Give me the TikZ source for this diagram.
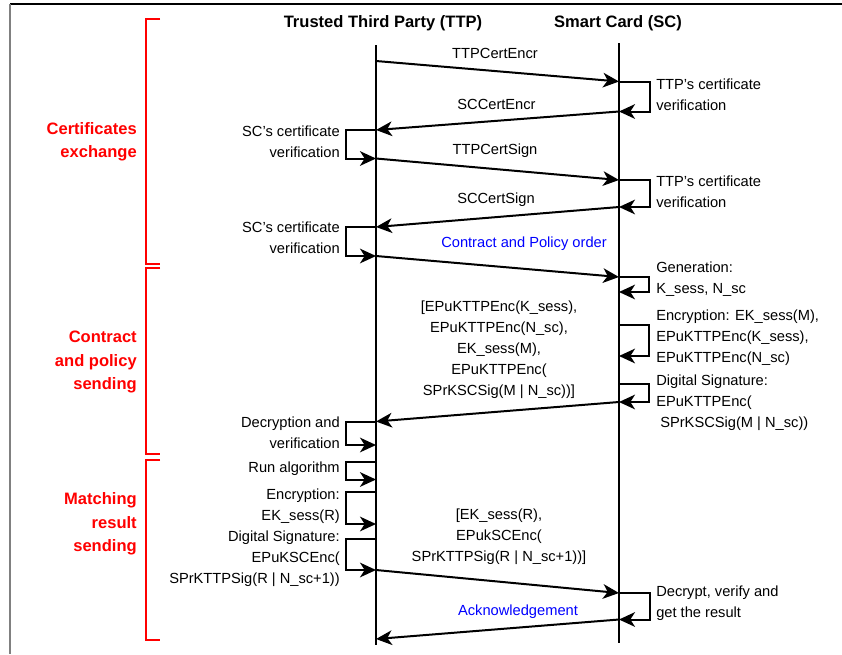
\documentclass[tikz,border=0pt]{standalone}
\usepackage{fontspec}
\setmainfont{Liberation Sans}
\usetikzlibrary{arrows.meta}
\begin{document}
\begin{tikzpicture}[x=0.75pt,y=-0.75pt,
  lbl/.style={inner sep=0pt,font=\fontsize{11}{15.75}\selectfont},
  lblL/.style={lbl,anchor=west,align=left},
  lblR/.style={lbl,anchor=east,align=right},
  lblC/.style={lbl,align=center},
  hdr/.style={inner sep=0pt,font=\fontsize{12.4}{15}\selectfont\bfseries},
  grp/.style={inner sep=0pt,anchor=east,align=right,text=red,font=\fontsize{12.4}{17.6}\selectfont\bfseries},
  life/.style={line width=2pt},
  msg/.style={line width=1.5pt,-{Stealth[length=12pt,width=11pt,inset=3.5pt]}},
  brk/.style={draw=red,line width=1.6pt},
  blu/.style={text=blue}]
\useasboundingbox (0,0) rectangle (842,654);
% frame
\draw[line width=1pt] (10,4) -- (842,4);
\draw[gray,line width=1.2pt] (10,4) -- (10,654);
% headers
\node[hdr] (hTTP) at (383,23) {Trusted Third Party (TTP)};
\node[hdr] (hSC) at (618,23) {Smart Card (SC)};
% lifelines
\coordinate (ttpTop) at (376,45); \coordinate (ttpBot) at (376,645);
\coordinate (scTop) at (619,43); \coordinate (scBot) at (619,643);
\draw[life] (ttpTop) -- (ttpBot);
\draw[life] (scTop) -- (scBot);
% message points
\coordinate (t1) at (376,61);
\coordinate (s1) at (619,81.5);
\coordinate (s2) at (619,111.5);
\coordinate (t2) at (376,130);
\coordinate (t3) at (376,158.5);
\coordinate (s3) at (619,180);
\coordinate (s4) at (619,207);
\coordinate (t4) at (376,227);
\coordinate (t5) at (376,256);
\coordinate (s5) at (619,277);
\coordinate (s6) at (619,292);
\coordinate (s7) at (619,325);
\coordinate (s8) at (619,356);
\coordinate (s9) at (619,384);
\coordinate (s10) at (619,402);
\coordinate (t6) at (376,421.5);
\coordinate (t7) at (376,445);
\coordinate (t8) at (376,462);
\coordinate (t9) at (376,479.5);
\coordinate (t10) at (376,492);
\coordinate (t11) at (376,524);
\coordinate (t12) at (376,539);
\coordinate (t13) at (376,570);
\coordinate (s11) at (619,593);
\coordinate (s12) at (619,619.5);
\coordinate (t14) at (376,639);
% messages
\draw[msg] (t1) -- (s1);
\draw[msg] (s1) -- ++(31,0) |- (s2);
\draw[msg] (s2) -- (t2);
\draw[msg] (t2) -- ++(-30,0) |- (t3);
\draw[msg] (t3) -- (s3);
\draw[msg] (s3) -- ++(31,0) |- (s4);
\draw[msg] (s4) -- (t4);
\draw[msg] (t4) -- ++(-30,0) |- (t5);
\draw[msg] (t5) -- (s5);
\draw[msg] (s5) -- ++(30,0) |- (s6);
\draw[msg] (s7) -- ++(30,0) |- (s8);
\draw[msg] (s9) -- ++(30,0) |- (s10);
\draw[msg] (s10) -- (t6);
\draw[msg] (t6) -- ++(-30,0) |- (t7);
\draw[msg] (t8) -- ++(-30,0) |- (t9);
\draw[msg] (t10) -- ++(-30,0) |- (t11);
\draw[msg] (t12) -- ++(-30,0) |- (t13);
\draw[msg] (t13) -- (s11);
\draw[msg] (s11) -- ++(31,0) |- (s12);
\draw[msg] (s12) -- (t14);
% message labels
\node[lblC] (m1) at (495,53) {TTPCertEncr};
\node[lblC] (m2) at (496.5,104.5) {SCCertEncr};
\node[lblC] (m3) at (495,151) {TTPCertSign};
\node[lblC] (m4) at (496,200) {SCCertSign};
\node[lblC,blu] (m5) at (524,244) {Contract and Policy order};
\node[lblC] (m6) at (499,350) {[EPuKTTPEnc(K\_sess),\\EPuKTTPEnc(N\_sc),\\EK\_sess(M),\\EPuKTTPEnc(\\SPrKSCSig(M | N\_sc))]};
\node[lblC] (m7) at (499,537) {[EK\_sess(R),\\EPukSCEnc(\\SPrKTTPSig(R | N\_sc+1))]};
\node[lblC,blu] (m8) at (518,612) {Acknowledgement};
% SC side action labels
\node[lblL] (a1) at (656,94.5) {TTP's certificate\\verification};
\node[lblL] (a2) at (656,191.5) {TTP's certificate\\verification};
\node[lblL] (a3) at (656,279) {Generation:\\K\_sess, N\_sc};
\node[lblL] (a4) at (656,338) {Encryption: EK\_sess(M),\\EPuKTTPEnc(K\_sess),\\EPuKTTPEnc(N\_sc)};
\node[lblL] (a5) at (656,403) {Digital Signature:\\EPuKTTPEnc(\\\hspace*{3pt}SPrKSCSig(M | N\_sc))};
\node[lblL] (a6) at (656,603) {Decrypt, verify and\\get the result};
% TTP side action labels
\node[lblR] (b1) at (340,142) {SC's certificate\\verification};
\node[lblR] (b2) at (340,238) {SC's certificate\\verification};
\node[lblR] (b3) at (340,433) {Decryption and\\verification};
\node[lblR] (b4) at (340,469) {Run algorithm};
\node[lblR] (b5) at (340,506) {Encryption:\\EK\_sess(R)};
\node[lblR] (b6) at (340,559) {Digital Signature:\\EPuKSCEnc(\\SPrKTTPSig(R | N\_sc+1))};
% group brackets
\draw[brk] (160,19) -- (146,19) -- (146,264) -- (160,264);
\draw[brk] (160,268) -- (146,268) -- (146,454) -- (160,454);
\draw[brk] (160,460) -- (146,460) -- (146,640) -- (160,640);
\node[grp] (g1) at (137,141.5) {Certificates\\exchange};
\node[grp] (g2) at (137,362) {Contract\\and policy\\sending};
\node[grp] (g3) at (137,524) {Matching\\result\\sending};
\end{tikzpicture}
\end{document}
